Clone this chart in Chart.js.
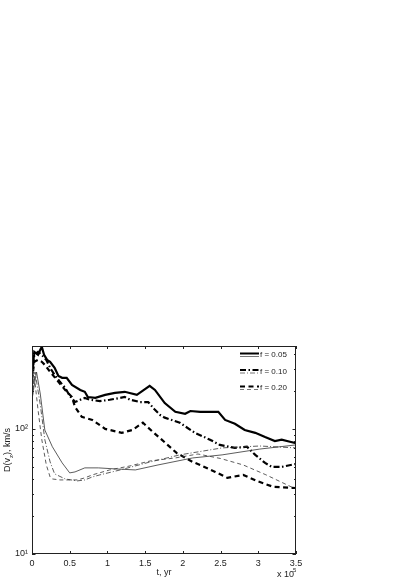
<!DOCTYPE html>
<html>
<head>
<meta charset="utf-8">
<script src="https://cdn.jsdelivr.net/npm/chart.js@4"></script>
<style>
body{margin:0;background:#fff}
#wrap{width:409px;height:578px}
</style>
</head>
<body>
<div id="wrap"><canvas id="dvChart" width="409" height="578"></canvas></div>
<script>
// t in units of 1e5 yr, D(vz) in km/s
var thickSolidT = [0,0.03,0.08,0.11,0.13,0.16,0.2,0.24,0.3,0.35,0.4,0.46,0.53,0.64,0.7,0.74,0.84,0.97,1.1,1.23,1.39,1.56,1.63,1.76,1.9,2.03,2.1,2.23,2.47,2.56,2.69,2.82,2.96,3.09,3.22,3.31,3.42,3.5]
var thickSolidV = [270,413,391,429,453,391,356,344,308,265,256,256,225,205,198,180,177,187,194,198,187,221,205,161,137,132,139,137,137,118,110,98,93,86,80,82,79,77]

var thickDashDotT = [0,0.03,0.08,0.13,0.19,0.24,0.3,0.37,0.44,0.5,0.57,0.64,0.7,0.77,0.9,1.03,1.17,1.23,1.3,1.43,1.54,1.63,1.7,1.76,1.96,2.16,2.36,2.49,2.69,2.85,2.96,3.09,3.18,3.31,3.5]
var thickDashDotV = [256,391,413,391,356,308,270,238,213,184,164,171,177,171,167,171,177,180,171,164,164,142,129,123,112,93,82,74.5,70.5,72,62,53.5,49.7,49.7,52.5]

var thickDashT = [0,0.03,0.08,0.13,0.17,0.24,0.35,0.44,0.53,0.57,0.66,0.8,0.97,1.19,1.33,1.47,1.59,1.72,1.92,2.13,2.23,2.43,2.59,2.8,2.98,3.2,3.5]
var thickDashV = [247,344,356,344,325,286,238,205,180,150,125,118,100,93,98,112,96,82,64,54.5,51.5,45.3,40.6,42.9,38.4,34.4,33.7]

var thinSolidT = [0,0.06,0.11,0.17,0.27,0.4,0.5,0.57,0.7,0.88,1.1,1.37,1.67,2.13,2.52,3.02,3.5]
var thinSolidV = [175,285,190,98,72,53.5,44.5,45.3,48.8,48.8,47.9,47,51.5,58.6,62,69,74.5]

var thinDashDotT = [0,0.04,0.11,0.17,0.24,0.3,0.44,0.6,0.7,0.8,0.9,1.17,1.57,1.96,2.52,3.02,3.5]
var thinDashDotV = [190,285,156,82,54.5,43.7,39.8,38.4,39.1,41.3,42.9,47,54.5,62,70.5,73,70.5]

var thinDashT = [0,0.03,0.08,0.13,0.19,0.24,0.27,0.37,0.6,0.7,0.8,1.03,1.3,1.57,1.9,2.2,2.5,2.8,3.1,3.5]
var thinDashV = [160,265,142,82,51.5,41.3,39.8,39.1,39.1,40.6,42.9,47,50.6,55.5,58.6,63,58,51.5,43,33]

var legendLabels = ['f = 0.05','f = 0.10','f = 0.20']
var xTicks = [0,0.5,1,1.5,2,2.5,3,3.5]
var yMajor = [10,100]
var yMinor = [20,30,40,50,60,70,80,90,200,300,400]

var dashDot = [6,2.5,1.5,2.5]
var dashed = [5,3.5]
var thinDashDot = [5,2,1,2]
var thinDashed = [4,3]

function pts(t, v){
    var out = []
    for(var i=0;i<t.length;i++){
        out.push({x:t[i], y:v[i]})
    }
    return out
}

function ds(t, v, w, col, dash){
    return {
        data: pts(t, v),
        borderColor: col,
        borderWidth: w,
        borderDash: dash,
        pointRadius: 0,
        tension: 0,
        fill: false
    }
}

var font = '"Liberation Sans", Arial, sans-serif'

var decorPlugin = {
    id: 'decor',
    afterDraw: function(chart){
        var ctx = chart.ctx
        var a = chart.chartArea
        var xs = chart.scales.x
        var ys = chart.scales.y
        ctx.save()

        // box
        ctx.strokeStyle = '#222'
        ctx.lineWidth = 1
        ctx.setLineDash([])
        ctx.strokeRect(a.left+0.5, a.top+0.5, a.right-a.left-1, a.bottom-a.top-1)

        // ticks inside the box
        ctx.beginPath()
        xTicks.forEach(function(t){
            var px = Math.round(xs.getPixelForValue(t))+0.5
            ctx.moveTo(px, a.bottom); ctx.lineTo(px, a.bottom-3)
            ctx.moveTo(px, a.top); ctx.lineTo(px, a.top+3)
        })
        yMajor.forEach(function(v){
            var py = Math.round(ys.getPixelForValue(v))+0.5
            ctx.moveTo(a.left, py); ctx.lineTo(a.left+3.5, py)
            ctx.moveTo(a.right, py); ctx.lineTo(a.right-3.5, py)
        })
        yMinor.forEach(function(v){
            var py = Math.round(ys.getPixelForValue(v))+0.5
            ctx.moveTo(a.left, py); ctx.lineTo(a.left+2, py)
            ctx.moveTo(a.right, py); ctx.lineTo(a.right-2, py)
        })
        ctx.stroke()

        // legend
        var styles = [[], dashDot, dashed]
        var thinStyles = [[], thinDashDot, thinDashed]
        ctx.font = '8px ' + font
        ctx.textBaseline = 'middle'
        ctx.textAlign = 'left'
        for(var i=0;i<legendLabels.length;i++){
            var y = 355 + i*16.5
            ctx.strokeStyle = '#000'
            ctx.lineWidth = 2
            ctx.setLineDash(styles[i])
            ctx.beginPath(); ctx.moveTo(240, y-1.5); ctx.lineTo(259, y-1.5); ctx.stroke()
            ctx.strokeStyle = '#777'
            ctx.lineWidth = 1
            ctx.setLineDash(thinStyles[i])
            ctx.beginPath(); ctx.moveTo(240, y+1.5); ctx.lineTo(259, y+1.5); ctx.stroke()
            ctx.fillStyle = '#222'
            ctx.fillText(legendLabels[i], 260, y)
        }
        ctx.setLineDash([])

        // x title and multiplier
        ctx.fillStyle = '#222'
        ctx.font = '9px ' + font
        ctx.textAlign = 'center'
        ctx.textBaseline = 'alphabetic'
        ctx.fillText('t, yr', (a.left+a.right)/2, 575)
        ctx.textAlign = 'left'
        ctx.fillText('x 10', 277, 577)
        ctx.font = '6px ' + font
        ctx.fillText('5', 293, 572)

        // y title with subscript z
        ctx.translate(10, (a.top+a.bottom)/2)
        ctx.rotate(-Math.PI/2)
        ctx.font = '9px ' + font
        var p1 = 'D(v', p3 = '), km/s'
        ctx.font = '9px ' + font
        var w1 = ctx.measureText(p1).width
        var w3 = ctx.measureText(p3).width
        ctx.font = '6px ' + font
        var w2 = ctx.measureText('z').width
        var x0 = -(w1+w2+w3)/2
        ctx.font = '9px ' + font
        ctx.fillText(p1, x0, 0)
        ctx.font = '6px ' + font
        ctx.fillText('z', x0+w1, 2.5)
        ctx.font = '9px ' + font
        ctx.fillText(p3, x0+w1+w2, 0)
        ctx.restore()
    }
}

var ctx = document.getElementById('dvChart').getContext('2d')
var chart = new Chart(ctx, {
    type: 'line',
    data: {
        datasets: [
            ds(thinSolidT, thinSolidV, 0.8, '#333', []),
            ds(thinDashDotT, thinDashDotV, 0.8, '#333', thinDashDot),
            ds(thinDashT, thinDashV, 0.8, '#333', thinDashed),
            ds(thickDashT, thickDashV, 2.2, '#000', dashed),
            ds(thickDashDotT, thickDashDotV, 2.2, '#000', dashDot),
            ds(thickSolidT, thickSolidV, 2.2, '#000', [])
        ]
    },
    options: {
        responsive: false,
        animation: false,
        layout: {padding: {left: 0, top: 346, right: 113, bottom: 0}},
        plugins: {legend: {display: false}, tooltip: {enabled: false}},
        scales: {
            x: {
                type: 'linear',
                min: 0,
                max: 3.5,
                grid: {display: false, drawTicks: false},
                border: {display: false},
                afterFit: function(s){ s.height = 24 },
                afterBuildTicks: function(s){ s.ticks = xTicks.map(function(v){ return {value: v} }) },
                ticks: {
                    padding: 4,
                    color: '#222',
                    font: {family: font, size: 9},
                    maxRotation: 0,
                    autoSkip: false,
                    callback: function(v){ return String(v) }
                }
            },
            y: {
                type: 'logarithmic',
                min: 10,
                max: 460,
                grid: {display: false, drawTicks: false},
                border: {display: false},
                afterFit: function(s){ s.width = 32 },
                afterBuildTicks: function(s){ s.ticks = yMajor.map(function(v){ return {value: v} }) },
                ticks: {
                    padding: 4,
                    color: '#222',
                    font: {family: font, size: 9},
                    autoSkip: false,
                    callback: function(v){ return v === 10 ? '10\u00b9' : (v === 100 ? '10\u00b2' : '') }
                }
            }
        }
    },
    plugins: [decorPlugin]
})
</script>
</body>
</html>
